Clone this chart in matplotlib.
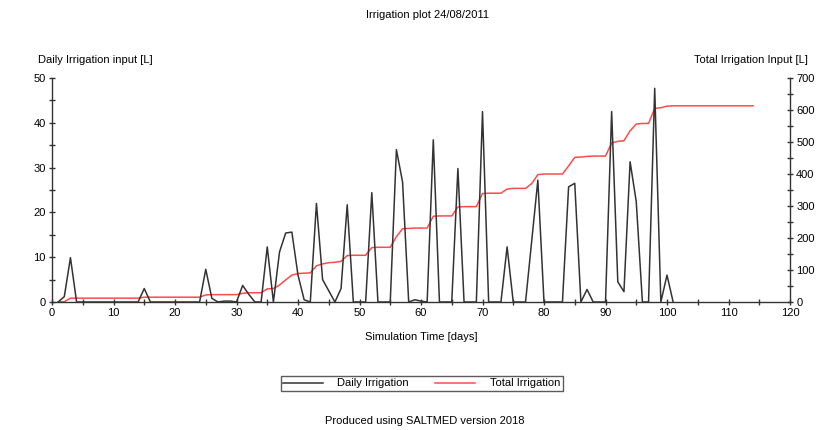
import matplotlib
matplotlib.use("Agg")
import matplotlib.pyplot as plt
from matplotlib.ticker import MultipleLocator

plt.rcParams['font.family'] = ['Liberation Sans', 'DejaVu Sans']

# Daily irrigation input [L], days 1..101
daily_days = list(range(1, 102))
daily_values = [
    0, 1.2, 9.9, 0, 0, 0, 0, 0, 0, 0,            # 1-10
    0, 0, 0, 0, 3, 0, 0, 0, 0, 0,                # 11-20
    0, 0, 0, 0, 7.3, 0.8, 0, 0.2, 0.2, 0,        # 21-30
    3.7, 1.7, 0, 0, 12.3, 0, 11.2, 15.4, 15.6, 6,  # 31-40
    0.5, 0, 22, 5, 2.5, 0, 3, 21.7, 0, 0,        # 41-50
    0, 24.4, 0, 0, 0, 34, 26.8, 0, 0.5, 0.2,     # 51-60
    0, 36.2, 0, 0, 0, 29.8, 0, 0, 0, 42.5,       # 61-70
    0, 0, 0, 12.3, 0, 0, 0, 13.6, 27.2, 0,       # 71-80
    0, 0, 0, 25.7, 26.5, 0, 2.8, 0, 0, 0,        # 81-90
    42.5, 4.5, 2.3, 31.3, 22.4, 0, 0, 47.7, 0, 6,  # 91-100
    0,                                           # 101
]

# Total irrigation input [L], days 1..114
total_days = list(range(1, 115))
total_values = [
    0, 1, 12, 12, 12, 12, 12, 12, 12, 12,                  # 1-10
    12, 12, 12, 12, 15, 15, 15, 15, 15, 15,                # 11-20
    15, 15, 15, 15, 22, 23, 23, 23, 23, 23,                # 21-30
    27, 29, 29, 29, 41, 42, 53, 69, 84, 89,                # 31-40
    90, 91, 113, 119, 123, 124, 127, 145, 146, 146,        # 41-50
    146, 170, 171, 171, 171, 204, 229, 230, 231, 231,      # 51-60
    231, 268, 269, 269, 269, 297, 298, 298, 298, 339,      # 61-70
    340, 340, 340, 353, 355, 355, 355, 370, 398, 400,      # 71-80
    400, 400, 400, 425, 452, 453, 455, 456, 456, 456,      # 81-90
    497, 502, 504, 535, 556, 558, 558, 605, 607, 612,      # 91-100
    613, 613, 613, 613, 613, 613, 613, 613, 613, 613,      # 101-110
    613, 613, 613, 613,                                    # 111-114
]

W, H = 817, 430
fig = plt.figure(figsize=(W / 100, H / 100), dpi=100)
fig.patch.set_facecolor('white')

x0, x1, ytop, ybot = 52, 790, 78, 302
ax = fig.add_axes([x0 / W, 1 - ybot / H, (x1 - x0) / W, (ybot - ytop) / H])
ax2 = ax.twinx()

fs = 8
l1, = ax.plot(daily_days, daily_values, color='#333333', lw=1.1, label='Daily Irrigation', zorder=3)
l2, = ax2.plot(total_days, total_values, color='#ff4a4a', lw=1.1, label='Total Irrigation', zorder=2)
ax.set_zorder(ax2.get_zorder() + 1)
ax.patch.set_visible(False)

ax.set_xlim(0, 120)
ax.set_ylim(0, 50)
ax2.set_ylim(0, 700)

ax.xaxis.set_major_locator(MultipleLocator(10))
ax.xaxis.set_minor_locator(MultipleLocator(5))
ax.yaxis.set_major_locator(MultipleLocator(10))
ax.yaxis.set_minor_locator(MultipleLocator(5))
ax2.yaxis.set_major_locator(MultipleLocator(100))
ax2.yaxis.set_minor_locator(MultipleLocator(50))

for a in (ax, ax2):
    a.spines['top'].set_visible(False)
    for s in a.spines.values():
        s.set_color('#333333')
        s.set_linewidth(1.0)
    a.tick_params(which='both', direction='inout', length=5, width=1.0,
                  color='#333333', labelsize=fs, pad=2)

ax.spines['right'].set_visible(False)
ax2.spines['left'].set_visible(False)
ax2.spines['bottom'].set_visible(False)

fig.text(428 / W, 1 - 15 / H, 'Irrigation plot 24/08/2011', ha='center', va='center', fontsize=fs)
fig.text(38 / W, 1 - 60 / H, 'Daily Irrigation input [L]', ha='left', va='center', fontsize=fs)
fig.text(808 / W, 1 - 60 / H, 'Total Irrigation Input [L]', ha='right', va='center', fontsize=fs)
fig.text(421 / W, 1 - 337 / H, 'Simulation Time [days]', ha='center', va='center', fontsize=fs)
fig.text(425 / W, 1 - 421 / H, 'Produced using SALTMED version 2018', ha='center', va='center', fontsize=fs)

leg = fig.legend([l1, l2], ['Daily Irrigation', 'Total Irrigation'], loc='center',
                 bbox_to_anchor=((278 + 565) / 2 / W, 1 - 383.5 / H), ncol=2,
                 fontsize=fs, frameon=True, fancybox=False, shadow=False,
                 handlelength=3.6, handletextpad=1.3, columnspacing=2.4,
                 borderpad=0.2, borderaxespad=0)
leg.get_frame().set_edgecolor('#333333')
leg.get_frame().set_linewidth(1.0)

fig.savefig('out.png', dpi=100, facecolor='white')
